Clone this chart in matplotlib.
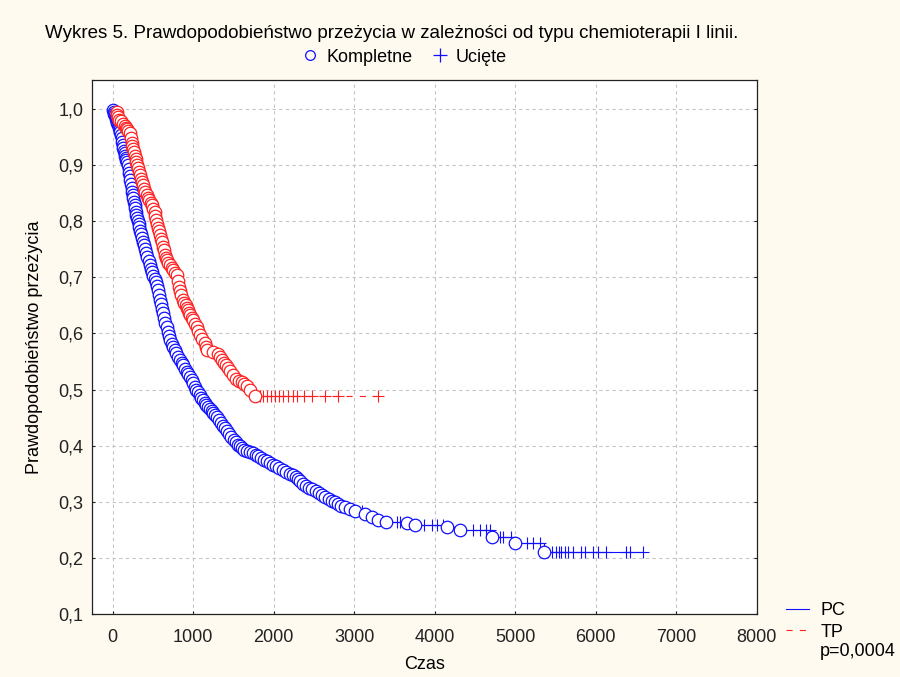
import numpy as np
import matplotlib
matplotlib.use("Agg")
import matplotlib.pyplot as plt
from matplotlib.lines import Line2D

plt.rcParams['font.family'] = ['Liberation Sans', 'DejaVu Sans']

# czasy zgonów i przeżycie (PC)
pc_t = [5, 12, 20, 28, 35, 42, 50, 58, 65, 72, 80, 88, 95, 102, 110, 118, 125,
        132, 140, 148, 155, 162, 170, 180, 190, 197, 205, 212, 220, 228, 235,
        242, 250, 257, 265, 272, 280, 287, 295, 302, 310, 320, 330, 340, 350,
        362, 375, 387, 400, 415, 430, 445, 460, 475, 490, 505, 520, 532, 545,
        557, 570, 585, 600, 612, 625, 640, 655, 670, 685, 697, 710, 730, 750,
        770, 790, 812, 835, 855, 875, 897, 920, 940, 960, 980, 1000, 1020, 1040,
        1060, 1080, 1100, 1120, 1140, 1160, 1185, 1210, 1230, 1250, 1270, 1290,
        1315, 1340, 1365, 1390, 1415, 1440, 1470, 1500, 1525, 1550, 1575, 1600,
        1635, 1670, 1705, 1740, 1775, 1810, 1845, 1880, 1915, 1950, 1990, 2030,
        2070, 2115, 2155, 2200, 2235, 2270, 2300, 2330, 2365, 2400, 2440, 2480,
        2520, 2560, 2600, 2640, 2680, 2720, 2760, 2800, 2840, 2880, 2950, 3010,
        3130, 3220, 3300, 3395, 3655, 3755, 4150, 4315, 4710, 5000, 5360]
pc_s = [0.998, 0.995, 0.992, 0.989, 0.985, 0.982, 0.979, 0.976, 0.973, 0.970,
        0.967, 0.964, 0.959, 0.954, 0.948, 0.942, 0.936, 0.931, 0.926, 0.921,
        0.917, 0.913, 0.909, 0.905, 0.900, 0.893, 0.886, 0.880, 0.873, 0.866,
        0.860, 0.853, 0.847, 0.841, 0.835, 0.829, 0.823, 0.817, 0.811, 0.806,
        0.800, 0.795, 0.789, 0.783, 0.777, 0.770, 0.763, 0.757, 0.750, 0.743,
        0.736, 0.729, 0.722, 0.715, 0.709, 0.703, 0.697, 0.691, 0.685, 0.677,
        0.669, 0.660, 0.652, 0.644, 0.636, 0.627, 0.619, 0.611, 0.603, 0.596,
        0.588, 0.582, 0.576, 0.570, 0.565, 0.559, 0.553, 0.548, 0.543, 0.537,
        0.532, 0.527, 0.522, 0.517, 0.511, 0.505, 0.500, 0.495, 0.490, 0.485,
        0.481, 0.477, 0.473, 0.469, 0.465, 0.461, 0.458, 0.454, 0.451, 0.446,
        0.441, 0.436, 0.431, 0.426, 0.421, 0.415, 0.410, 0.406, 0.402, 0.399,
        0.396, 0.393, 0.391, 0.389, 0.387, 0.384, 0.381, 0.378, 0.375, 0.372,
        0.369, 0.366, 0.363, 0.360, 0.357, 0.353, 0.350, 0.347, 0.344, 0.340,
        0.337, 0.332, 0.328, 0.325, 0.322, 0.319, 0.316, 0.312, 0.309, 0.305,
        0.302, 0.299, 0.296, 0.293, 0.290, 0.287, 0.283, 0.278, 0.273, 0.268,
        0.264, 0.263, 0.259, 0.255, 0.250, 0.237, 0.226, 0.211]
# obserwacje ucięte (PC)
pc_cens = [600, 1300, 1700, 2240, 2500, 2700, 2900, 3100, 3530, 3570, 3860,
           3970, 4030, 4100, 4480, 4560, 4630, 4690, 4810, 4850, 4940, 5150,
           5220, 5310, 5460, 5500, 5540, 5570, 5620, 5660, 5710, 5810, 5870,
           5960, 6030, 6120, 6370, 6430, 6590]

# czasy zgonów i przeżycie (TP)
tp_t = [50, 56, 62, 80, 100, 125, 150, 165, 180, 195, 210, 222, 235, 245, 255,
        265, 275, 285, 295, 302, 310, 322, 335, 347, 360, 375, 390, 405, 420,
        437, 455, 470, 485, 502, 520, 530, 540, 550, 560, 572, 585, 597, 610,
        622, 633, 645, 660, 675, 692, 710, 730, 750, 772, 795, 808, 820, 835,
        850, 870, 887, 905, 920, 935, 950, 965, 980, 995, 1020, 1045, 1062,
        1080, 1112, 1145, 1158, 1170, 1240, 1305, 1330, 1355, 1382, 1410, 1432,
        1455, 1490, 1530, 1565, 1600, 1635, 1667, 1710, 1766]
tp_s = [0.995, 0.990, 0.985, 0.981, 0.978, 0.974, 0.970, 0.967, 0.964, 0.961,
        0.957, 0.948, 0.940, 0.935, 0.929, 0.923, 0.917, 0.911, 0.905, 0.900,
        0.895, 0.888, 0.882, 0.876, 0.870, 0.864, 0.858, 0.852, 0.847, 0.842,
        0.838, 0.833, 0.829, 0.822, 0.816, 0.809, 0.802, 0.795, 0.788, 0.782,
        0.776, 0.769, 0.763, 0.755, 0.748, 0.740, 0.735, 0.731, 0.726, 0.722,
        0.717, 0.713, 0.708, 0.704, 0.694, 0.683, 0.675, 0.668, 0.660, 0.655,
        0.651, 0.646, 0.642, 0.637, 0.633, 0.628, 0.624, 0.617, 0.611, 0.604,
        0.597, 0.590, 0.583, 0.576, 0.570, 0.567, 0.563, 0.558, 0.553, 0.548,
        0.543, 0.538, 0.533, 0.526, 0.519, 0.516, 0.513, 0.510, 0.507, 0.500,
        0.488]
# obserwacje ucięte (TP)
tp_cens = [330, 700, 1020, 1200, 1400, 1620, 1720, 1830, 1870, 1910, 1960,
           2010, 2060, 2120, 2180, 2240, 2290, 2370, 2480, 2640, 2800, 3296]

BLUE = '#1010ff'
RED = '#ff2020'
FS = 13


def km_plot(ax, t, s, cens, color, ls, z):
    t = np.asarray(t, float)
    s = np.asarray(s, float)
    cens = np.asarray(cens, float)
    st = np.concatenate([[0.0], t, [max(cens.max(), t.max())]])
    ss = np.concatenate([[1.0], s, [s[-1]]])
    line, = ax.step(st, ss, where='post', color=color, lw=0.8, ls=ls, zorder=z)
    # poziom przeżycia w chwili ucięcia
    idx = np.searchsorted(t, cens, side='right')
    cs = np.concatenate([[1.0], s])[idx]
    ax.plot(cens, cs, ls='none', marker='+', ms=9, mew=0.8, color=color, zorder=z + 0.1)
    ax.plot(t, s, ls='none', marker='o', ms=9, mfc='white', mec=color, mew=0.9, zorder=z + 0.2)
    return line


fig = plt.figure(figsize=(9, 6.77), dpi=100, facecolor='#fffaf0')
ax = fig.add_axes([0.102, 0.093, 0.739, 0.789])
ax.set_facecolor('white')

l_pc = km_plot(ax, pc_t, pc_s, pc_cens, BLUE, '-', 2)
l_tp = km_plot(ax, tp_t, tp_s, tp_cens, RED, (0, (5.5, 6.5)), 3)

ax.set_xlim(-260, 8000)
ax.set_ylim(0.1, 1.052)
ax.set_xticks(np.arange(0, 8001, 1000))
ax.set_yticks(np.arange(0.1, 1.01, 0.1))
ax.set_yticklabels([f'{v:.1f}'.replace('.', ',') for v in np.arange(0.1, 1.01, 0.1)])
ax.grid(True, color='#c4c4c4', ls=(0, (3, 3)), lw=0.8)
ax.tick_params(direction='in', length=2, labelsize=FS, pad=6, colors='#222222',
               right=True, top=False)
ax.tick_params(axis='x', pad=11)
for sp in ax.spines.values():
    sp.set_color('#222222')
    sp.set_linewidth(0.9)

ax.set_xlabel('Czas', fontsize=FS, labelpad=7)
ax.set_ylabel('Prawdopodobieństwo przeżycia', fontsize=FS, labelpad=11)

fig.text(392 / 900, 1 - 33 / 677,
         'Wykres 5. Prawdopodobieństwo przeżycia w zależności od typu chemioterapii I linii.',
         ha='center', va='center', fontsize=13.5)

top_handles = [Line2D([], [], ls='none', marker='o', ms=7, mfc='none', mec=BLUE, mew=0.9),
               Line2D([], [], ls='none', marker='+', ms=10, mew=0.9, color=BLUE)]
fig.legend(top_handles, ['Kompletne', 'Ucięte'], loc='center', ncol=2,
           bbox_to_anchor=(404 / 900, 1 - 57 / 677), frameon=False, fontsize=FS,
           handlelength=1.0, handletextpad=0.4, columnspacing=1.0)

fig.legend([l_pc, l_tp], ['PC', 'TP'], loc='upper left',
           bbox_to_anchor=(786 / 900, 1 - 602 / 677), frameon=False, fontsize=FS,
           handlelength=1.3, handletextpad=0.6, labelspacing=0.25,
           borderaxespad=0, borderpad=0)
fig.text(820 / 900, 1 - 652 / 677, 'p=0,0004', ha='left', va='center', fontsize=FS)

fig.savefig('out.png', dpi=100, facecolor=fig.get_facecolor())
